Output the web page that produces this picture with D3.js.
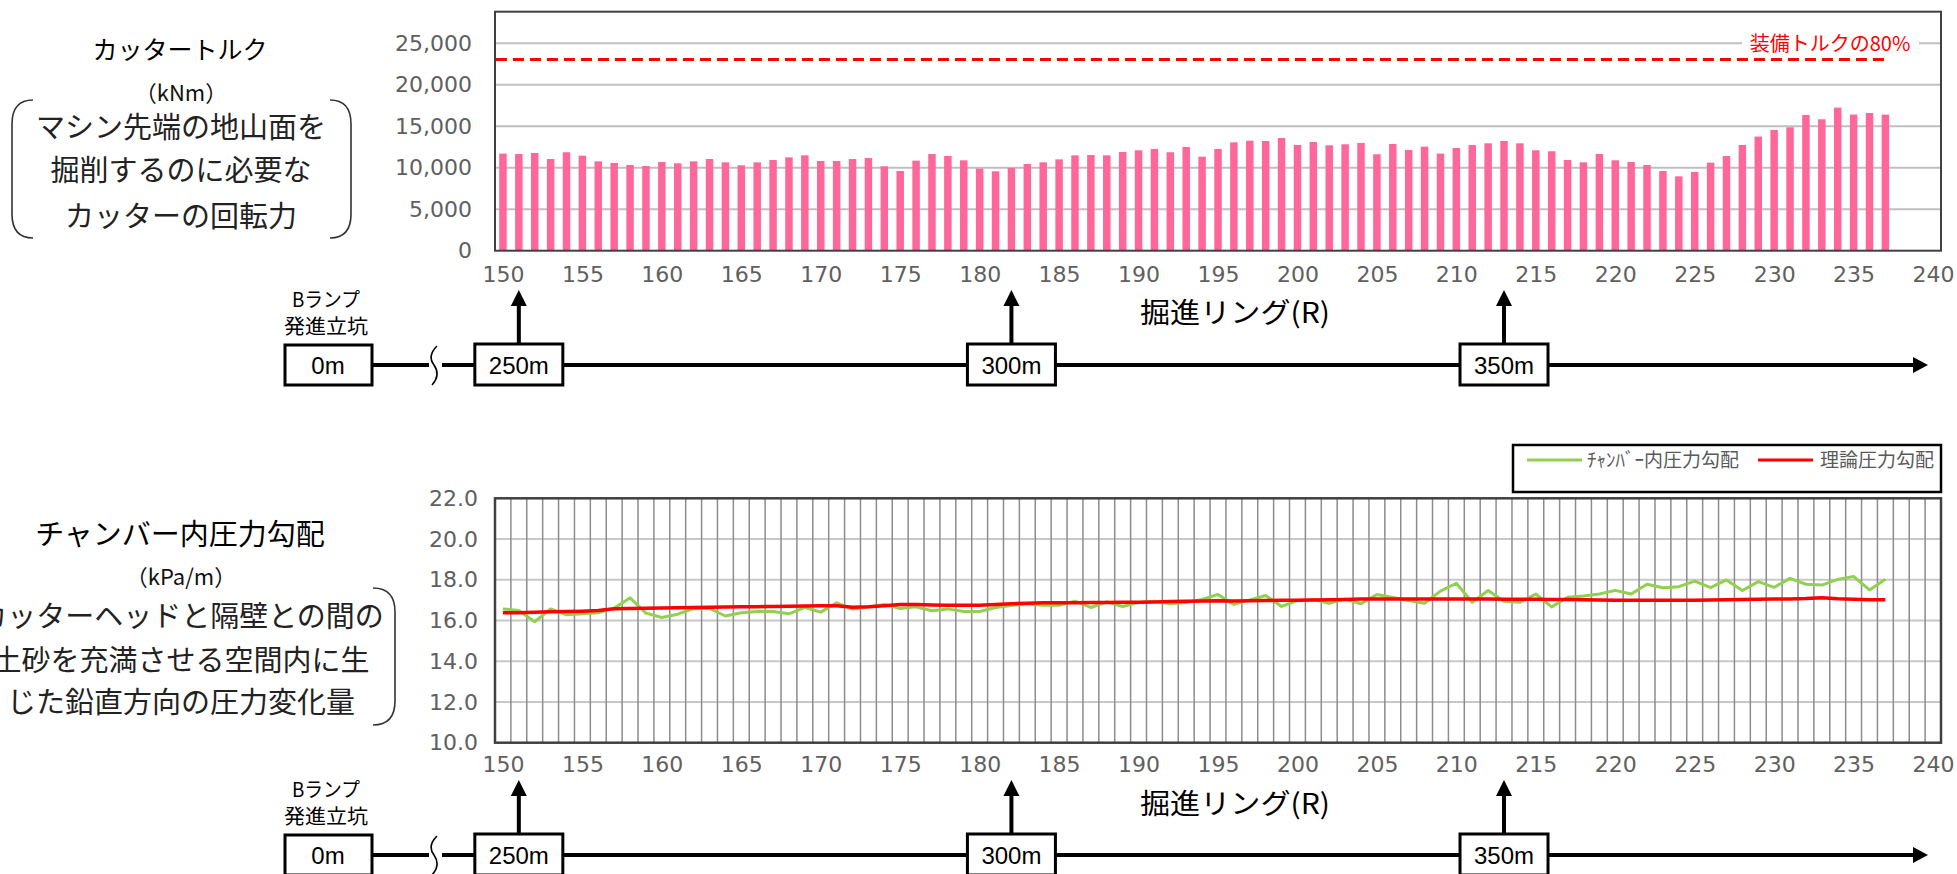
<!DOCTYPE html>
<html><head><meta charset="utf-8">
<script src="https://cdn.jsdelivr.net/npm/d3@7"></script>
<style>body{margin:0;background:#fff;} svg{display:block}</style>
</head><body>
<svg id="c" width="1957" height="874"></svg>
<script>
// ---------- data ----------
const rings = d3.range(150, 241);               // category axis: ring 150 .. 240
const dataRings = d3.range(150, 238);           // rings with data: 150 .. 237
const tickLabels = ["150","155","160","165","170","175","180","185","190","195","200","205","210","215","220","225","230","235","240"];
const torque = [11700,11650,11780,11050,11860,11450,10770,10570,10330,10210,
  10690,10530,10770,11050,10650,10290,10650,10930,11250,11490,
  10810,10810,11050,11170,10170,9600,10850,11650,11410,10890,
  9890,9570,9970,10450,10650,11010,11490,11530,11490,11900,
  12100,12260,11860,12500,11330,12260,13060,13260,13220,13580,
  12740,13100,12700,12820,12980,11620,12860,12140,12540,11700,
  12380,12740,12940,13220,12940,12100,11980,10930,10650,11650,
  10890,10690,10330,9600,8960,9490,10610,11410,12740,13750,
  14550,14870,16360,15840,17240,16400,16600,16400];
const chamberGrad = [16.57,16.49,15.94,16.57,16.28,16.33,16.38,16.61,17.11,16.36,
  16.15,16.31,16.59,16.59,16.22,16.38,16.44,16.44,16.33,16.64,
  16.41,16.87,16.56,16.66,16.79,16.59,16.67,16.48,16.57,16.44,
  16.44,16.64,16.74,16.82,16.75,16.75,16.95,16.64,16.92,16.69,
  16.88,16.95,16.82,16.88,17.03,17.28,16.79,17.01,17.23,16.69,
  16.98,17.03,16.85,17.05,16.82,17.28,17.13,16.98,16.85,17.44,
  17.83,16.89,17.47,16.94,16.89,17.30,16.67,17.14,17.20,17.30,
  17.48,17.30,17.78,17.61,17.66,17.93,17.61,17.99,17.47,17.91,
  17.63,18.07,17.78,17.74,18.02,18.16,17.50,18.02];
const theoryGrad = [16.38,16.38,16.40,16.43,16.44,16.46,16.49,16.58,16.59,16.60,
  16.61,16.62,16.64,16.65,16.66,16.67,16.68,16.69,16.70,16.71,
  16.72,16.72,16.65,16.67,16.72,16.78,16.78,16.76,16.75,16.75,
  16.75,16.78,16.82,16.85,16.87,16.87,16.87,16.88,16.88,16.89,
  16.90,16.91,16.93,16.94,16.96,16.97,16.96,16.97,16.98,16.99,
  17.00,17.01,17.02,17.03,17.05,17.06,17.06,17.06,17.06,17.06,
  17.05,17.05,17.05,17.04,17.04,17.04,17.03,17.03,17.02,17.01,
  17.00,16.99,16.99,16.99,16.99,17.00,17.01,17.02,17.03,17.04,
  17.05,17.06,17.08,17.12,17.07,17.04,17.02,17.02];
const torqueTicks = [0,5000,10000,15000,20000,25000];
const gradTicks = [10,12,14,16,18,20,22];
const torqueMax = 28800;        // equipped torque
const torqueLimit = 23040;      // 80% of equipped torque
const seriesNames = ["ﾁｬﾝﾊﾞｰ内圧力勾配","理論圧力勾配"];
const seriesColors = ["#92D050","#FF0000"];
const milestones = [{label:"250m",ring:151},{label:"300m",ring:182},{label:"350m",ring:213}];

// ---------- layout ----------
const svg = d3.select("#c");
const JP = "'Noto Sans CJK JP','Noto Sans',sans-serif";
const NUM = "'DejaVu Sans',sans-serif";
const plotL = 495, plotR = 1941;
const top1 = {t:11.7, b:250.7};
const top2 = {t:498.3, b:742.7};

const x = d3.scalePoint().domain(rings).range([plotL, plotR]).padding(0.5);
const step = x.step();
const y1 = d3.scaleLinear().domain([0, torqueMax]).range([top1.b, top1.t]);
const y2 = d3.scaleLinear().domain([10, 22]).range([top2.b, top2.t]);

// ===== Top chart =====
const g1 = svg.append("g");
g1.selectAll("line.grid").data(torqueTicks.slice(1)).join("line")
  .attr("x1", plotL).attr("x2", plotR).attr("y1", d=>y1(d)).attr("y2", d=>y1(d))
  .attr("stroke", "#bfbfbf").attr("stroke-width", 2);

g1.selectAll("rect.bar").data(torque).join("rect")
  .attr("x", (d,i)=>x(dataRings[i]) - step*0.235)
  .attr("width", step*0.47)
  .attr("y", d=>y1(d)).attr("height", d=>y1(0)-y1(d))
  .attr("fill", "#FF6699");

// 80% line
g1.append("line")
  .attr("x1", x(150)-7).attr("x2", x(237)+3)
  .attr("y1", y1(torqueLimit)).attr("y2", y1(torqueLimit))
  .attr("stroke", "#FF0000").attr("stroke-width", 3).attr("stroke-dasharray", "11,6");
g1.append("rect").attr("x", 1742).attr("y", y1(25000)-10).attr("width", 177).attr("height", 20).attr("fill", "#fff");
g1.append("text").attr("x", 1830).attr("y", y1(25000)+8).attr("text-anchor", "middle")
  .attr("font-family", JP).attr("font-size", 20).attr("fill", "#FF0000").text("装備トルクの80%");

g1.append("rect").attr("x", plotL).attr("y", top1.t).attr("width", plotR-plotL).attr("height", top1.b-top1.t)
  .attr("fill", "none").attr("stroke", "#404040").attr("stroke-width", 2);

const ay1 = g1.append("g").attr("transform", `translate(${plotL},0)`)
  .call(d3.axisLeft(y1).tickValues(torqueTicks).tickFormat(d3.format(",")).tickSize(0).tickPadding(23));
const ax1 = g1.append("g").attr("transform", `translate(0,${top1.b})`)
  .call(d3.axisBottom(x).tickValues(tickLabels.map(Number)).tickSize(0).tickPadding(16));

// ===== Bottom chart =====
const g2 = svg.append("g");
g2.selectAll("line.hg").data(gradTicks.slice(1,-1)).join("line")
  .attr("x1", plotL).attr("x2", plotR).attr("y1", d=>y2(d)).attr("y2", d=>y2(d))
  .attr("stroke", "#c8c8c8").attr("stroke-width", 2);
g2.selectAll("line.vg").data(rings.slice(1)).join("line")
  .attr("x1", d=>x(d)-step/2).attr("x2", d=>x(d)-step/2).attr("y1", top2.t).attr("y2", top2.b)
  .attr("stroke", "#8c8c8c").attr("stroke-width", 1.5);

const line2 = d3.line().x((d,i)=>x(dataRings[i])).y(d=>y2(d));
g2.append("path").datum(chamberGrad).attr("d", line2).attr("fill","none")
  .attr("stroke", seriesColors[0]).attr("stroke-width", 3).attr("stroke-linejoin","round");
g2.append("path").datum(theoryGrad).attr("d", line2).attr("fill","none")
  .attr("stroke", seriesColors[1]).attr("stroke-width", 3.5).attr("stroke-linejoin","round");

g2.append("rect").attr("x", plotL).attr("y", top2.t).attr("width", plotR-plotL).attr("height", top2.b-top2.t)
  .attr("fill", "none").attr("stroke", "#404040").attr("stroke-width", 2.5);

const ay2 = g2.append("g").attr("transform", `translate(${plotL},0)`)
  .call(d3.axisLeft(y2).tickValues(gradTicks).tickFormat(d3.format(".1f")).tickSize(0).tickPadding(17));
const ax2 = g2.append("g").attr("transform", `translate(0,${top2.b})`)
  .call(d3.axisBottom(x).tickValues(tickLabels.map(Number)).tickSize(0).tickPadding(14));

[ay1, ax1, ay2, ax2].forEach(a => {
  a.select(".domain").remove();
  a.selectAll("text").attr("font-family", NUM).attr("font-size", 22).attr("fill", "#606060");
});

// legend
const lg = svg.append("g");
lg.append("rect").attr("x", 1513).attr("y", 445).attr("width", 428).attr("height", 47)
  .attr("fill", "#fff").attr("stroke", "#000").attr("stroke-width", 2.5);
const legendItems = [{x1:1527, x2:1582, tx:1587}, {x1:1758, x2:1813, tx:1820}];
legendItems.forEach((it, i) => {
  lg.append("line").attr("x1", it.x1).attr("x2", it.x2).attr("y1", 460).attr("y2", 460)
    .attr("stroke", seriesColors[i]).attr("stroke-width", 3);
  lg.append("text").attr("x", it.tx).attr("y", 467).attr("font-family", JP).attr("font-size", 19)
    .attr("fill", "#595959").text(seriesNames[i]);
});

// ===== Left descriptions =====
function desc(cy, title, unit, lines, lineYs, titleSize, bracket) {
  const g = svg.append("g").attr("font-family", JP).attr("text-anchor", "middle");
  g.append("text").attr("x", 180).attr("y", cy.title + titleSize*0.36).attr("font-size", titleSize).attr("fill", "#000").text(title);
  g.append("text").attr("x", 181).attr("y", cy.unit + 8).attr("font-size", 22).attr("fill", "#111").text(unit);
  lines.forEach((t, i) => g.append("text").attr("x", 181).attr("y", lineYs[i] + 10).attr("font-size", 29).attr("fill", "#222").text(t));
  bracket.forEach(p => g.append("path").attr("d", p).attr("fill", "none").attr("stroke", "#333").attr("stroke-width", 1.6));
}
desc({title:50, unit:93}, "カッタートルク", "（kNm）",
  ["マシン先端の地山面を","掘削するのに必要な","カッターの回転力"], [128, 171, 217], 25,
  ["M33,100 Q12,100 12,124 L12,214 Q12,238 33,238", "M330,100 Q351,100 351,124 L351,214 Q351,238 330,238"]);
desc({title:535, unit:577}, "チャンバー内圧力勾配", "（kPa/m）",
  ["カッターヘッドと隔壁との間の","土砂を充満させる空間内に生","じた鉛直方向の圧力変化量"], [617, 661, 703], 29,
  ["M373,588 Q395,588 395,612 L395,701 Q395,725 373,725"]);

// ===== Timelines =====
function timeline(yl, tipY, axisTitleY) {
  const g = svg.append("g");
  // main line
  g.append("line").attr("x1", 330).attr("x2", 429).attr("y1", yl).attr("y2", yl).attr("stroke", "#000").attr("stroke-width", 4);
  g.append("line").attr("x1", 442).attr("x2", 1915).attr("y1", yl).attr("y2", yl).attr("stroke", "#000").attr("stroke-width", 4);
  g.append("path").attr("d", `M1913,${yl-8} L1928,${yl} L1913,${yl+8} Z`).attr("fill", "#000");
  // break mark
  g.append("path").attr("d", `M437,${yl-19} Q427,${yl-9} 434,${yl} Q441,${yl+10} 432,${yl+20}`)
    .attr("fill", "none").attr("stroke", "#000").attr("stroke-width", 1.6);
  // 0m box
  g.append("rect").attr("x", 285).attr("y", yl-20).attr("width", 87).attr("height", 40)
    .attr("fill", "#fff").attr("stroke", "#000").attr("stroke-width", 3);
  g.append("text").attr("x", 328).attr("y", yl+9).attr("text-anchor", "middle")
    .attr("font-family", "'Liberation Sans',Arial,sans-serif").attr("font-size", 24).text("0m");
  g.append("text").attr("x", 326).attr("y", yl-58).attr("text-anchor", "middle")
    .attr("font-family", JP).attr("font-size", 20).attr("textLength", 68).attr("lengthAdjust", "spacingAndGlyphs").text("Bランプ");
  g.append("text").attr("x", 326).attr("y", yl-31).attr("text-anchor", "middle")
    .attr("font-family", JP).attr("font-size", 20).attr("textLength", 84).attr("lengthAdjust", "spacingAndGlyphs").text("発進立坑");
  // milestones
  milestones.forEach(m => {
    const cx = x(m.ring);
    g.append("line").attr("x1", cx).attr("x2", cx).attr("y1", yl-21).attr("y2", tipY+12).attr("stroke", "#000").attr("stroke-width", 4);
    g.append("path").attr("d", `M${cx-8},${tipY+16} L${cx},${tipY} L${cx+8},${tipY+16} Z`).attr("fill", "#000");
    g.append("rect").attr("x", cx-44).attr("y", yl-21).attr("width", 88).attr("height", 41)
      .attr("fill", "#fff").attr("stroke", "#000").attr("stroke-width", 3);
    g.append("text").attr("x", cx).attr("y", yl+9).attr("text-anchor", "middle")
      .attr("font-family", "'Liberation Sans',Arial,sans-serif").attr("font-size", 24).text(m.label);
  });
  g.append("text").attr("x", 1235).attr("y", axisTitleY+10).attr("text-anchor", "middle")
    .attr("font-family", JP).attr("font-size", 28).attr("textLength", 190).attr("lengthAdjust", "spacingAndGlyphs").text("掘進リング(R)");
}
timeline(365, 290, 313);
timeline(855, 780, 804);
</script>
</body></html>
